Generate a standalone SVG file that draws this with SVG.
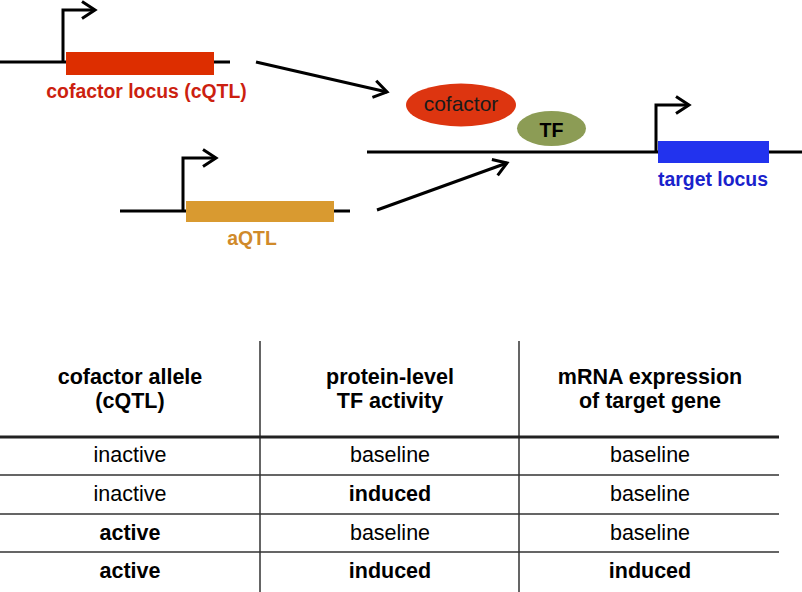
<svg xmlns="http://www.w3.org/2000/svg" width="802" height="592" viewBox="0 0 802 592">
<style>
.ln{stroke:#000;stroke-width:3;fill:none}
.lbl{font-family:"Liberation Sans",Arial,sans-serif;font-weight:bold;font-size:19.4px;text-anchor:middle}
.tb{font-family:"Liberation Sans",Arial,sans-serif;font-size:21.5px;text-anchor:middle;fill:#000}
.b{font-weight:bold}
.rule{stroke:#333;stroke-width:1.5}
</style>
<defs>
<marker id="ah" markerUnits="userSpaceOnUse" markerWidth="30" markerHeight="30" refX="0" refY="0" viewBox="-20 -15 30 30" orient="auto" overflow="visible">
<path d="M-13,-8.5 L0,0 L-13,8.5" fill="none" stroke="#000" stroke-width="3"/>
</marker>
</defs>
<rect width="802" height="592" fill="#fff"/>

<g id="cofactor-locus">
<path class="ln" d="M0,62 H230"/>
<path class="ln" d="M63,62 V10 H95" marker-end="url(#ah)"/>
<rect x="66" y="52" width="148" height="23" fill="#dd2e00"/>
<text class="lbl" x="146.5" y="98" fill="#cc1f10">cofactor locus (cQTL)</text>
</g>

<g id="aqtl-locus">
<path class="ln" d="M120,211 H350"/>
<path class="ln" d="M183,211 V158 H216" marker-end="url(#ah)"/>
<rect x="186" y="201" width="148" height="21" fill="#d99a30"/>
<text class="lbl" x="252" y="245" fill="#d08a2a">aQTL</text>
</g>

<g id="target-locus">
<path class="ln" d="M367,152 H802"/>
<path class="ln" d="M656,152 V105 H689" marker-end="url(#ah)"/>
<rect x="658" y="141" width="111" height="22" fill="#2233ee"/>
<text class="lbl" x="713" y="186" fill="#1a22cc">target locus</text>
</g>

<g id="cofactor">
<ellipse cx="461" cy="105" rx="55" ry="21.5" fill="#dd3510"/>
<text x="461" y="111" font-family="Liberation Sans,Arial,sans-serif" font-size="21" text-anchor="middle" fill="#1a1a1a">cofactor</text>
</g>

<g id="tf">
<ellipse cx="551.5" cy="128.5" rx="34.5" ry="17.5" fill="#8c9c55"/>
<text x="551.5" y="137" font-family="Liberation Sans,Arial,sans-serif" font-size="19.6" font-weight="bold" text-anchor="middle" fill="#000">TF</text>
</g>

<g id="connectors">
<path class="ln" d="M256,62 L387,92" marker-end="url(#ah)"/>
<path class="ln" d="M377,210 L507,163" marker-end="url(#ah)"/>
</g>

<g id="table">
<path class="rule" d="M260,341 V592 M519,341 V592"/>
<path d="M0,437 H779" stroke="#222" stroke-width="3"/>
<path class="rule" d="M0,475 H779 M0,514 H779 M0,552 H779"/>
<text class="tb b" x="130" y="384">cofactor allele</text>
<text class="tb b" x="130" y="408">(cQTL)</text>
<text class="tb b" x="390" y="384">protein-level</text>
<text class="tb b" x="390" y="408">TF activity</text>
<text class="tb b" x="650" y="384">mRNA expression</text>
<text class="tb b" x="650" y="408">of target gene</text>
<text class="tb" x="130" y="462">inactive</text>
<text class="tb" x="390" y="462">baseline</text>
<text class="tb" x="650" y="462">baseline</text>
<text class="tb" x="130" y="501">inactive</text>
<text class="tb b" x="390" y="501">induced</text>
<text class="tb" x="650" y="501">baseline</text>
<text class="tb b" x="130" y="540">active</text>
<text class="tb" x="390" y="540">baseline</text>
<text class="tb" x="650" y="540">baseline</text>
<text class="tb b" x="130" y="578">active</text>
<text class="tb b" x="390" y="578">induced</text>
<text class="tb b" x="650" y="578">induced</text>
</g>
</svg>
